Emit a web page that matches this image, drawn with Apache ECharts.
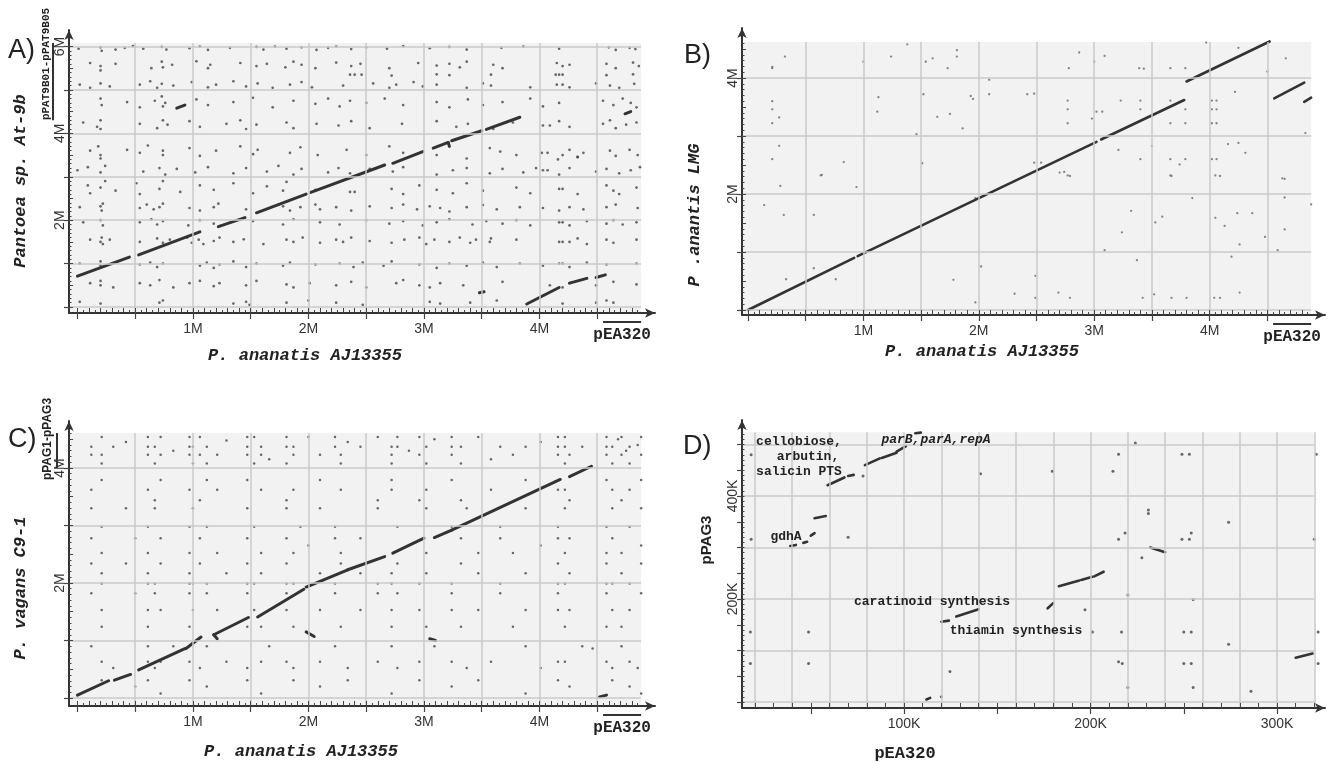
<!DOCTYPE html>
<html>
<head>
<meta charset="utf-8">
<script src="https://cdn.jsdelivr.net/npm/echarts@6/dist/echarts.min.js"></script>
<style>
html, body { margin: 0; padding: 0; background: #fff; }
#main { width: 1333px; height: 762px; }
</style>
</head>
<body>
<div id="main"></div>
<script>
// ---- data (A, B, C in Mb; D in kb). segments are [x1, y1, x2, y2] ----
var aSegments = [
  [0.00, 0.71, 0.45, 1.15], [0.53, 1.20, 1.06, 1.73], [1.22, 1.85, 1.45, 2.06],
  [1.55, 2.17, 1.98, 2.60], [2.02, 2.64, 2.66, 3.27], [2.73, 3.31, 2.99, 3.58],
  [3.08, 3.66, 3.21, 3.79], [3.21, 3.79, 3.22, 3.70], [3.24, 3.83, 3.50, 4.06],
  [3.54, 4.09, 3.83, 4.37], [3.89, 0.07, 4.17, 0.45], [4.26, 0.55, 4.41, 0.66],
  [4.49, 0.68, 4.57, 0.74], [0.86, 4.58, 0.93, 4.65], [3.48, 0.33, 3.52, 0.35],
  [4.74, 4.45, 4.79, 4.50]
];
var aDots = [
  [0.01,5.95],[0.20,5.98],[0.21,5.9],[0.33,5.93],[0.41,5.97],[0.48,6.01],[0.57,5.95],[0.73,5.99],[0.77,5.93],[0.97,5.96],[1.06,6.0],[1.13,5.92],[1.32,5.97],[1.55,5.99],[1.61,5.93],[1.71,6.0],[1.81,5.95],[1.94,5.98],[2.07,5.92],[2.17,5.97],[2.24,6.0],[2.37,5.94],[2.5,5.98],[2.68,5.95],[2.82,6.01],[3.05,5.96],[3.22,5.99],[3.37,5.93],[3.67,5.97],[3.86,6.0],[4.17,5.95],[4.6,5.98],[4.66,5.92],[4.78,5.97],[4.83,5.94],
  [0.11,5.62],[0.2,5.55],[0.2,5.45],[0.33,5.6],[0.64,5.5],[0.73,5.65],[0.74,5.52],[0.82,5.58],[1.03,5.66],[1.13,5.5],[1.15,5.58],[1.41,5.62],[1.55,5.55],[1.64,5.6],[1.8,5.52],[1.87,5.65],[1.94,5.58],[2.06,5.5],[2.24,5.63],[2.37,5.55],[2.45,5.6],[2.7,5.5],[2.95,5.62],[3.11,5.56],[3.22,5.6],[3.31,5.52],[3.37,5.65],[3.6,5.58],[3.68,5.5],[4.15,5.62],[4.2,5.55],[4.26,5.58],[4.58,5.6],[4.66,5.5],[4.81,5.63],[4.86,5.55],
  [2.36,5.35],[2.4,5.35],[2.46,5.35],[2.72,5.33],[3.11,5.36],[3.22,5.34],[3.58,5.35],[4.14,5.35],[4.17,5.35],[4.2,5.35],[4.58,5.34],[4.81,5.36],
  [0.02,5.12],[0.11,5.05],[0.2,5.15],[0.28,5.08],[0.54,5.12],[0.63,5.2],[0.69,5.05],[0.73,5.14],[0.83,5.1],[0.99,5.18],[1.13,5.06],[1.2,5.12],[1.35,5.2],[1.46,5.08],[1.56,5.15],[1.69,5.05],[1.84,5.12],[1.94,5.18],[2.03,5.06],[2.3,5.1],[2.56,5.15],[2.7,5.05],[2.76,5.12],[2.91,5.18],[2.99,5.08],[3.11,5.12],[3.37,5.05],[3.51,5.15],[3.58,5.1],[3.92,5.06],[4.15,5.12],[4.2,5.12],[4.26,5.06],[4.49,5.15],[4.61,5.1],[4.69,5.05],[4.82,5.14],
  [0.2,4.8],[0.21,4.65],[0.43,4.72],[0.54,4.6],[0.67,4.75],[0.73,4.85],[0.74,4.62],[0.76,4.7],[1.03,4.78],[1.13,4.65],[1.35,4.72],[1.52,4.82],[1.69,4.6],[1.87,4.75],[2.06,4.68],[2.17,4.8],[2.27,4.62],[2.36,4.75],[2.5,4.7],[2.66,4.8],[2.82,4.65],[3.11,4.72],[3.22,4.6],[3.38,4.78],[3.51,4.65],[3.68,4.72],[3.92,4.8],[4.03,4.62],[4.17,4.7],[4.55,4.75],[4.64,4.65],[4.72,4.8],[4.79,4.7],[4.84,4.6],
  [0.05,4.25],[0.17,4.15],[0.2,4.3],[0.2,4.1],[0.54,4.22],[0.69,4.12],[0.74,4.3],[0.78,4.2],[0.97,4.28],[1.06,4.15],[1.29,4.22],[1.41,4.3],[1.46,4.1],[1.55,4.2],[1.81,4.25],[1.87,4.12],[2.07,4.22],[2.26,4.18],[2.37,4.28],[2.53,4.12],[2.81,4.22],[3.11,4.28],[3.28,4.15],[3.38,4.22],[3.6,4.1],[3.77,4.25],[4.03,4.18],[4.09,4.18],[4.17,4.28],[4.26,4.15],[4.55,4.22],[4.61,4.3],[4.66,4.12],[4.75,4.2],[4.84,4.25],
  [0.11,3.6],[0.18,3.7],[0.2,3.5],[0.2,3.42],[0.43,3.62],[0.54,3.55],[0.61,3.72],[0.74,3.5],[0.74,3.6],[0.97,3.66],[1.06,3.48],[1.2,3.6],[1.41,3.7],[1.52,3.52],[1.56,3.62],[1.84,3.55],[1.93,3.68],[2.08,3.5],[2.33,3.62],[2.5,3.5],[2.7,3.7],[2.82,3.55],[3.11,3.5],[3.37,3.42],[3.57,3.66],[3.66,3.58],[3.8,3.5],[4.02,3.55],[4.07,3.55],[4.16,3.4],[4.2,3.5],[4.26,3.62],[4.33,3.45],[4.38,3.55],[4.61,3.6],[4.66,3.48],[4.78,3.62],[4.85,3.5],
  [0.0,3.15],[0.09,3.22],[0.2,3.1],[0.24,3.25],[0.57,3.12],[0.71,3.2],[0.76,3.05],[0.86,3.18],[1.02,3.1],[1.13,3.22],[1.35,3.08],[1.46,3.2],[1.64,3.12],[1.74,3.25],[1.87,3.05],[1.94,3.18],[2.17,3.1],[2.26,3.2],[2.36,3.08],[2.53,3.18],[2.73,3.12],[2.82,3.22],[3.11,3.05],[3.25,3.15],[3.37,3.2],[3.57,3.08],[3.68,3.18],[3.86,3.1],[3.97,3.2],[4.03,3.15],[4.07,3.15],[4.17,3.05],[4.26,3.2],[4.49,3.12],[4.58,3.18],[4.69,3.08],[4.79,3.15],[4.87,3.22],
  [0.09,2.8],[0.11,2.62],[0.2,2.75],[0.24,2.9],[0.33,2.68],[0.51,2.85],[0.54,2.6],[0.71,2.72],[0.74,2.9],[0.89,2.65],[1.06,2.8],[1.18,2.7],[1.35,2.85],[1.52,2.62],[1.64,2.78],[1.78,2.68],[1.81,2.88],[2.06,2.7],[2.36,2.65],[2.4,2.65],[2.72,2.72],[2.82,2.6],[2.96,2.8],[3.11,2.7],[3.25,2.62],[3.37,2.85],[3.51,2.68],[3.8,2.75],[3.92,2.62],[4.17,2.72],[4.2,2.72],[4.33,2.6],[4.58,2.8],[4.64,2.68],[4.69,2.6],[4.84,2.75],
  [0.02,2.3],[0.2,2.32],[0.21,2.22],[0.22,2.38],[0.54,2.28],[0.6,2.36],[0.66,2.25],[0.71,2.3],[0.74,2.38],[0.97,2.28],[1.06,2.22],[1.18,2.3],[1.22,2.38],[1.46,2.25],[1.78,2.32],[1.84,2.22],[1.93,2.3],[2.06,2.36],[2.1,2.25],[2.24,2.3],[2.37,2.22],[2.53,2.32],[2.72,2.28],[2.82,2.36],[2.94,2.25],[3.05,2.32],[3.14,2.28],[3.22,2.2],[3.37,2.3],[3.51,2.35],[3.63,2.25],[3.83,2.3],[4.03,2.28],[4.17,2.22],[4.26,2.3],[4.38,2.25],[4.58,2.3],[4.66,2.36],[4.85,2.28],
  [0.05,1.95],[0.2,2.0],[0.22,1.88],[0.54,1.95],[0.64,2.02],[0.69,1.9],[0.74,1.98],[0.96,1.88],[1.06,2.0],[1.18,1.92],[1.52,1.98],[1.78,1.9],[1.87,2.02],[2.1,1.95],[2.27,1.9],[2.5,2.0],[2.7,1.92],[2.82,1.98],[2.99,1.88],[3.11,1.95],[3.22,2.02],[3.42,1.9],[3.54,1.98],[3.68,1.92],[3.8,2.0],[3.92,1.88],[4.17,1.95],[4.2,1.95],[4.26,1.88],[4.41,1.98],[4.58,1.92],[4.64,2.0],[4.72,1.9],[4.84,1.95],
  [0.11,1.55],[0.2,1.5],[0.21,1.6],[0.22,1.45],[0.28,1.55],[0.54,1.5],[0.69,1.58],[0.74,1.48],[0.8,1.55],[0.95,1.6],[0.99,1.48],[1.05,1.55],[1.09,1.45],[1.18,1.52],[1.23,1.6],[1.35,1.5],[1.44,1.56],[1.61,1.45],[1.81,1.55],[1.87,1.5],[1.95,1.6],[2.1,1.48],[2.24,1.55],[2.3,1.5],[2.37,1.6],[2.53,1.52],[2.72,1.48],[2.83,1.55],[2.96,1.6],[3.02,1.45],[3.09,1.55],[3.22,1.5],[3.31,1.6],[3.4,1.48],[3.45,1.55],[3.57,1.5],[3.58,1.58],[3.8,1.55],[4.17,1.5],[4.2,1.5],[4.26,1.5],[4.33,1.58],[4.41,1.45],[4.58,1.55],[4.64,1.48],[4.84,1.55],
  [0.02,1.0],[0.2,0.95],[0.2,1.05],[0.54,0.98],[0.63,1.02],[0.69,0.92],[0.74,1.0],[1.06,0.95],[1.12,1.02],[1.18,0.9],[1.23,0.98],[1.35,1.05],[1.46,0.92],[1.55,1.0],[1.78,0.95],[1.84,1.02],[2.06,0.98],[2.27,1.0],[2.39,0.92],[2.47,1.02],[2.65,0.95],[2.72,1.05],[2.96,0.98],[3.11,0.9],[3.22,1.0],[3.37,0.95],[3.51,1.02],[3.63,0.92],[3.83,1.0],[4.03,0.95],[4.17,1.0],[4.2,1.0],[4.26,0.92],[4.41,1.02],[4.58,0.98],[4.84,1.0],
  [0.11,0.55],[0.2,0.5],[0.2,0.6],[0.31,0.45],[0.54,0.55],[0.63,0.5],[0.71,0.62],[0.83,0.45],[0.97,0.55],[1.06,0.6],[1.18,0.48],[1.23,0.55],[1.46,0.5],[1.55,0.6],[1.81,0.52],[1.87,0.45],[2.01,0.55],[2.24,0.5],[2.37,0.58],[2.5,0.45],[2.76,0.55],[2.82,0.62],[2.96,0.5],[3.05,0.45],[3.14,0.55],[3.34,0.5],[3.68,0.58],[4.09,0.5],[4.2,0.45],[4.26,0.55],[4.49,0.5],[4.64,0.58],[4.84,0.52],
  [0.02,0.12],[0.2,0.08],[0.71,0.1],[0.74,0.15],[1.35,0.08],[1.46,0.12],[1.49,0.05],[1.81,0.1],[2.0,0.15],[2.24,0.1],[2.47,0.05],[3.05,0.12],[3.14,0.08],[3.4,0.1],[3.63,0.15],[4.2,0.08],[4.49,0.1],[4.58,0.15],[4.64,0.1],[4.33,3.46]
];

var bSegments = [
  [0.00, 0.00, 0.92, 0.90], [0.95, 0.93, 3.02, 2.90], [3.06, 2.94, 3.78, 3.62],
  [3.80, 3.94, 4.52, 4.63], [4.56, 3.65, 4.82, 3.92], [4.82, 3.59, 4.88, 3.66]
];
var bDots = [
  [0.32,4.37],[0.21,4.17],[0.21,4.19],[1.0,4.28],[1.24,4.37],[1.38,4.58],[1.54,4.28],[1.6,4.34],[1.81,4.48],[1.81,4.37],[1.73,4.17],[2.09,3.97],[2.09,3.72],
  [0.21,3.6],[0.21,3.46],[0.27,3.32],[0.21,3.22],[1.13,3.67],[1.12,3.42],[1.52,3.72],[1.64,3.33],[1.75,3.38],[1.93,3.69],[1.95,3.64],[1.86,3.13],[1.46,3.03],
  [0.27,2.83],[0.21,2.6],[0.83,2.55],[0.63,2.32],[1.51,2.53],
  [2.87,4.44],[3.0,4.28],[3.09,4.38],[2.78,4.17],[3.39,4.17],[3.43,4.16],[3.66,4.17],[3.79,4.17],[3.97,4.61],[4.25,4.52],[4.66,4.34],[4.5,4.11],
  [2.42,3.72],[2.48,3.73],[2.77,3.61],[2.77,3.46],[2.77,3.22],[3.02,3.42],[3.07,3.42],[2.98,3.3],[3.23,3.61],[3.4,3.61],[3.4,3.46],[3.66,3.61],[3.66,3.22],[3.79,3.46],[3.79,3.22],[4.02,3.61],[4.06,3.61],[4.02,3.46],[4.06,3.46],[4.02,3.22],[4.06,3.22],[4.22,3.76],[4.83,3.05],
  [3.5,2.83],[3.21,2.76],[4.16,2.86],[4.25,2.88],[4.31,2.71],[3.74,2.51],[3.4,2.6],[3.66,2.6],[3.79,2.6],[4.02,2.6],[4.06,2.6],[2.48,2.54],[2.54,2.54],[2.7,2.37],[2.77,2.32],[3.66,2.32],[4.05,2.32],[4.63,2.27],
  [0.14,1.81],[0.31,1.64],[0.28,2.14],[0.64,2.33],[0.94,2.12],[0.57,1.64],[0.57,0.72],[0.33,0.53],[0.76,0.53],[1.78,0.52],[1.97,1.93],[2.02,0.75],[1.97,0.13],[2.31,0.28],[2.49,0.59],[2.49,0.21],[2.69,0.3],[2.74,2.38],[2.79,2.31],[2.79,0.21],[3.09,1.03],[3.24,1.34],[3.32,1.71],[3.37,0.86],[3.42,0.21],[3.52,0.27],[3.53,1.51],[3.59,1.61],[3.67,2.31],[3.67,0.21],[3.8,0.21],[3.85,1.93],[4.05,1.59],[4.04,0.21],[4.09,0.21],[4.09,2.31],[4.13,1.45],[4.19,0.92],[4.24,1.67],[4.37,1.67],[4.26,1.13],[4.26,0.3],[4.48,1.26],[4.59,1.03],[4.65,2.26],[4.65,1.94],[4.65,1.39],[4.88,1.82]
];

var cSegments = [
  [0.00, 0.05, 0.27, 0.30], [0.32, 0.31, 0.46, 0.41], [0.53, 0.49, 0.93, 0.86],
  [0.94, 0.86, 1.07, 1.06], [1.18, 1.10, 1.48, 1.40], [1.18, 1.10, 1.21, 1.03],
  [1.56, 1.41, 1.96, 1.89], [1.98, 1.93, 2.34, 2.23], [2.34, 2.23, 2.66, 2.46],
  [2.73, 2.52, 3.00, 2.78], [3.09, 2.79, 3.24, 2.92], [3.24, 2.92, 4.18, 3.80],
  [4.26, 3.85, 4.45, 4.03], [4.52, 0.02, 4.58, 0.05], [1.98, 1.15, 2.05, 1.07],
  [3.05, 1.03, 3.10, 1.00]
];
var cDots = [
  [0.12,4.37],[0.12,4.23],[0.21,4.54],[0.21,4.23],[0.21,4.08],[0.31,4.37],[0.61,4.54],[0.61,4.37],[0.61,4.23],[0.67,4.37],[0.67,4.08],[0.72,4.54],[0.72,4.23],[0.97,4.54],[0.97,4.37],[0.97,4.23],[1.0,4.37],[1.0,4.08],[1.06,4.54],[1.06,4.23],[1.12,4.37],[1.12,4.08],[1.21,4.23],[1.47,4.54],[1.47,4.37],[1.47,4.23],[1.53,4.54],[1.53,4.08],[1.59,4.37],[1.59,4.23],[1.81,4.54],[1.81,4.37],[1.81,4.08],[1.87,4.23],[1.87,4.37],[2.0,4.54],[2.1,4.23],[2.23,4.54],[2.23,4.37],[2.28,4.23],[2.28,4.08],[2.45,4.37],[2.6,4.54],[2.72,4.37],[2.72,4.23],[2.72,4.08],[2.77,4.54],[2.77,4.37],[2.96,4.54],[2.96,4.23],[3.02,4.37],[3.02,4.08],[3.24,4.54],[3.24,4.37],[3.24,4.23],[3.32,4.37],[3.32,4.08],[3.47,4.54],[3.66,4.37],[3.77,4.23],[3.88,4.37],[4.16,4.54],[4.16,4.37],[4.16,4.23],[4.22,4.54],[4.22,4.37],[4.22,4.08],[4.26,4.23],[4.37,4.37],[4.58,4.54],[4.58,4.37],[4.58,4.23],[4.63,4.37],[4.63,4.08],[4.71,4.54],[4.71,4.23],[4.78,4.37],[4.78,4.08],[4.88,4.54],[4.88,4.23],
  [0.42,4.45],[0.83,4.3],[1.29,4.48],[1.66,4.15],[2.34,4.45],[2.87,4.3],[3.09,4.5],[3.58,4.15],[4.01,4.45],[4.68,4.5],[4.75,4.3],[4.85,4.4],
  [0.12,3.62],[0.21,3.79],[0.61,3.62],[0.67,3.44],[0.72,3.79],[0.97,3.62],[1.06,3.44],[1.12,3.79],[1.21,3.62],[1.47,3.79],[1.59,3.62],[1.81,3.44],[1.87,3.62],[2.1,3.79],[2.28,3.62],[2.6,3.44],[2.72,3.79],[2.72,3.62],[2.96,3.44],[3.02,3.62],[3.24,3.79],[3.32,3.44],[3.58,3.62],[3.88,3.79],[4.16,3.62],[4.22,3.62],[4.26,3.44],[4.58,3.79],[4.63,3.62],[4.71,3.44],[4.78,3.62],[4.88,3.79],
  [0.12,3.3],[0.21,2.98],[0.42,3.3],[0.61,2.98],[0.67,3.3],[0.97,2.98],[1.0,3.3],[1.12,2.98],[1.47,3.3],[1.53,2.98],[1.81,3.3],[1.93,2.98],[2.1,3.3],[2.23,2.98],[2.6,3.3],[2.77,2.98],[3.02,3.3],[3.24,2.98],[3.37,3.3],[3.66,2.98],[3.88,3.3],[4.16,2.98],[4.22,3.3],[4.58,2.98],[4.63,3.3],[4.78,2.98],[4.88,3.3],
  [0.12,2.78],[0.21,2.52],[0.5,2.78],[0.61,2.52],[0.72,2.78],[0.97,2.52],[1.06,2.78],[1.21,2.52],[1.47,2.78],[1.59,2.52],[1.81,2.78],[1.87,2.52],[2.0,2.65],[2.23,2.78],[2.28,2.52],[2.45,2.78],[3.02,2.52],[3.32,2.78],[3.47,2.52],[3.66,2.78],[3.77,2.52],[4.01,2.65],[4.16,2.78],[4.22,2.52],[4.26,2.78],[4.58,2.52],[4.63,2.78],[4.71,2.52],[4.88,2.65],
  [0.12,2.34],[0.21,2.17],[0.21,1.99],[0.42,2.34],[0.61,2.17],[0.61,1.99],[0.67,1.99],[0.72,2.34],[0.97,2.17],[0.97,1.99],[1.0,1.99],[1.06,2.34],[1.12,1.99],[1.29,2.17],[1.47,2.34],[1.47,1.99],[1.53,1.99],[1.59,2.17],[1.81,2.34],[1.81,1.99],[1.87,1.99],[2.1,2.17],[2.23,1.99],[2.28,2.34],[2.45,2.17],[2.6,1.99],[2.72,2.17],[2.72,1.99],[2.77,2.34],[2.96,1.99],[3.02,2.17],[3.24,1.99],[3.32,2.34],[3.47,2.17],[3.66,1.99],[3.88,2.17],[4.16,1.99],[4.16,2.34],[4.22,1.99],[4.26,2.17],[4.58,1.99],[4.58,2.34],[4.63,1.99],[4.71,2.17],[4.78,1.99],[4.88,2.34],
  [0.12,1.82],[0.21,1.53],[0.21,1.24],[0.5,1.82],[0.61,1.53],[0.61,1.24],[0.67,1.82],[0.72,1.53],[0.97,1.82],[0.97,1.24],[1.0,1.53],[1.12,1.82],[1.21,1.53],[1.47,1.82],[1.47,1.24],[1.53,1.53],[1.59,1.24],[1.81,1.82],[1.81,1.53],[1.87,1.24],[2.1,1.53],[2.23,1.82],[2.28,1.24],[2.45,1.53],[2.6,1.82],[2.72,1.53],[2.72,1.24],[2.77,1.82],[2.96,1.53],[3.02,1.24],[3.24,1.82],[3.24,1.53],[3.32,1.24],[3.47,1.53],[3.66,1.82],[3.77,1.24],[3.88,1.53],[4.16,1.82],[4.16,1.53],[4.22,1.24],[4.26,1.53],[4.58,1.82],[4.58,1.24],[4.63,1.53],[4.71,1.24],[4.78,1.53],[4.88,1.82],
  [0.12,0.9],[0.21,0.63],[0.31,0.52],[0.61,0.9],[0.61,0.63],[0.67,0.52],[0.72,0.63],[0.83,0.9],[0.97,0.63],[1.06,0.52],[1.12,0.9],[1.29,0.63],[1.47,0.52],[1.59,0.63],[1.66,0.9],[1.81,0.63],[1.87,0.52],[2.1,0.63],[2.23,0.9],[2.34,0.52],[2.6,0.63],[2.72,0.9],[2.77,0.52],[2.96,0.63],[3.09,0.9],[3.24,0.63],[3.37,0.52],[3.58,0.63],[3.88,0.9],[4.01,0.52],[4.16,0.63],[4.22,0.63],[4.37,0.9],[4.58,0.63],[4.63,0.52],[4.71,0.9],[4.78,0.63],[4.85,0.52],
  [0.21,0.31],[0.5,0.2],[0.61,0.31],[0.72,0.08],[0.97,0.31],[1.12,0.2],[1.47,0.31],[1.59,0.08],[1.87,0.31],[2.1,0.2],[2.34,0.31],[2.72,0.08],[2.96,0.31],[3.24,0.2],[3.47,0.31],[3.88,0.08],[4.16,0.31],[4.26,0.2],[4.63,0.31],[4.78,0.2],[4.88,0.08],[4.46,0.86]
];

var dSegments = [
  [79, 460, 87, 473], [88, 474, 96, 484], [96, 486, 101, 497], [106, 522, 109, 523],
  [59, 421, 68, 436], [70, 439, 73, 441], [52, 357, 58, 361], [39, 303, 42, 305],
  [46, 309, 48, 311], [50, 323, 52, 328], [232, 300, 240, 291], [183, 225, 194, 236],
  [195, 237, 201, 243], [202, 244, 207, 253], [177, 182, 180, 192], [120, 156, 124, 158],
  [128, 166, 140, 180], [310, 86, 319, 94], [112, 5, 114, 8]
];
var dDots = [
  [78,439],[141,443],[18,480],[18,316],[70,320],[224,503],[215,481],[249,481],[253,481],[321,481],
  [179.5,448],[212,448],[231,373],[231,366],[274,349],[218.5,328],[215,316],[249,316],[253,316],[254,328],[320,316],
  [227.5,280],[220,208],[197,179],[255,199],
  [17.6,136],[48.8,136],[201,136],[216.6,136],[250,136],[254,136],[322,136],
  [17.6,75],[48.8,75],[215,78],[217,75],[250,75],[254,75],[322,75],
  [274,112],[124.6,59],[220,28],[255,28],[286,21],[120,10]
];

// tick labels
var mbLabelsX = [1, 2, 3, 4];
var mbLabelsYA = [2, 4, 6];
var mbLabelsYBC = [2, 4];
var kbLabelsX = [100, 200, 300];
var kbLabelsY = [200, 400];
// replicon ranges shown as bars beside the axes
var pEA320Range = [4.55, 4.88];
var pPAT9BRange = [4.3, 6.08];
var pPAGRange = [4.0, 4.61];

function ticks(from, to, step) {
  var out = [];
  for (var v = from; v <= to + 1e-9; v += step) out.push(Math.round(v * 1000) / 1000);
  return out;
}

var mbX = {
  xMajor: ticks(0, 4.5, 0.5), xLong: ticks(0, 4.8, 0.1), xShort: ticks(0, 4.85, 0.05),
  xGrid: ticks(0.5, 4.5, 0.5), xLabels: mbLabelsX
};

var panels = [
  Object.assign({left: 69, top: 30, width: 586, height: 283,
    xMin: -0.073, xMax: 5.0, yMin: -0.138, yMax: 6.38, plotX: 4.88, plotY: 6.08,
    yMajor: ticks(0, 6, 1), yLong: ticks(0, 6, 0.5), yShort: ticks(0, 6, 0.1),
    yGrid: ticks(0, 6, 1), yLabels: mbLabelsYA, unit: 'M',
    segs: aSegments, dots: aDots, dotSize: 2.7, dotColor: '#444', lineWidth: 3}, mbX),
  Object.assign({left: 742, top: 28, width: 583, height: 287,
    xMin: -0.052, xMax: 5.0, yMin: -0.086, yMax: 4.862, plotX: 4.88, plotY: 4.62,
    yMajor: ticks(0, 4, 1), yLong: ticks(0, 4.5, 0.5), yShort: ticks(0, 4.6, 0.1),
    yGrid: ticks(0, 4, 1), yLabels: mbLabelsYBC, unit: 'M',
    segs: bSegments, dots: bDots, dotSize: 2.3, dotColor: '#666', lineWidth: 2.6}, mbX),
  Object.assign({left: 69, top: 421, width: 586, height: 285,
    xMin: -0.073, xMax: 5.0, yMin: -0.139, yMax: 4.817, plotX: 4.88, plotY: 4.61,
    yMajor: ticks(0, 4, 1), yLong: ticks(0, 4.5, 0.5), yShort: ticks(0, 4.6, 0.1),
    yGrid: ticks(0, 4, 1), yLabels: mbLabelsYBC, unit: 'M',
    segs: cSegments, dots: cDots, dotSize: 2.5, dotColor: '#444', lineWidth: 3}, mbX),
  {left: 742, top: 420, width: 583, height: 288,
    xMin: 13.1, xMax: 325.7, yMin: -11.65, yMax: 547.6, plotX: 320, plotY: 524,
    xMajor: ticks(50, 300, 50), xLong: ticks(20, 320, 10), xShort: null,
    xGrid: ticks(20, 320, 20), xLabels: kbLabelsX,
    yMajor: ticks(0, 500, 50), yLong: null, yShort: ticks(0, 520, 10),
    yGrid: ticks(0, 500, 100), yLabels: kbLabelsY, unit: 'K',
    segs: dSegments, dots: dDots, dotSize: 3, dotColor: '#444', lineWidth: 2.6}
];

var axisColor = '#333';
var labelFont = {color: '#333', fontSize: 14, fontFamily: 'Liberation Sans'};

function minorAxis(i, p, dim, vals, len) {
  var ax = {gridIndex: i, type: 'value', min: p[dim + 'Min'], max: p[dim + 'Max'],
    position: dim === 'x' ? 'bottom' : 'left', z: 10,
    axisLine: {show: false, onZero: false},
    axisTick: {show: !!vals, inside: true, length: len, lineStyle: {color: '#444', width: 1}},
    axisLabel: {show: false}, splitLine: {show: false}};
  if (vals) { ax.axisTick.customValues = vals; ax.axisLabel.customValues = vals; }
  return ax;
}

var grids = [], xAxes = [], yAxes = [], series = [];
panels.forEach(function (p, i) {
  grids.push({left: p.left, top: p.top, width: p.width, height: p.height,
    containLabel: false, outerBoundsMode: 'none'});
  var fmt = function (v) { return v + p.unit; };
  xAxes.push({gridIndex: i, type: 'value', min: p.xMin, max: p.xMax, position: 'bottom', z: 10,
    axisLine: {show: true, onZero: false, symbol: ['none', 'arrow'], symbolSize: [7, 10],
      lineStyle: {color: axisColor, width: 2}},
    axisTick: {show: true, inside: false, length: 6, customValues: p.xMajor,
      lineStyle: {color: '#444', width: 1.2}},
    axisLabel: Object.assign({customValues: p.xLabels, formatter: fmt, margin: 9}, labelFont),
    splitLine: {show: false}});
  xAxes.push(minorAxis(i, p, 'x', p.xLong, 5));
  xAxes.push(minorAxis(i, p, 'x', p.xShort, 3));
  yAxes.push({gridIndex: i, type: 'value', min: p.yMin, max: p.yMax, position: 'left', z: 10,
    axisLine: {show: true, onZero: false, symbol: ['none', 'arrow'], symbolSize: [7, 10],
      lineStyle: {color: axisColor, width: 2}},
    axisTick: {show: true, inside: false, length: 5, customValues: p.yMajor,
      lineStyle: {color: '#444', width: 1.2}},
    axisLabel: Object.assign({customValues: p.yLabels, formatter: fmt, rotate: 90, margin: 2}, labelFont),
    splitLine: {show: false}});
  yAxes.push(minorAxis(i, p, 'y', p.yLong, 4));
  yAxes.push(minorAxis(i, p, 'y', p.yShort, 2.5));

  var ax = {xAxisIndex: 3 * i, yAxisIndex: 3 * i};
  series.push(Object.assign({type: 'line', data: [], silent: true, z: 1,
    markArea: {silent: true, itemStyle: {color: '#f2f2f2'},
      data: [[{coord: [p.xMin, p.yMin]}, {coord: [p.plotX, p.plotY]}]]}}, ax));
  var gl = [];
  p.xGrid.forEach(function (v) { gl.push([{coord: [v, p.yMin]}, {coord: [v, p.plotY]}]); });
  p.yGrid.forEach(function (v) { gl.push([{coord: [p.xMin, v]}, {coord: [p.plotX, v]}]); });
  series.push(Object.assign({type: 'line', data: [], silent: true, z: 2,
    markLine: {silent: true, symbol: ['none', 'none'], label: {show: false},
      lineStyle: {color: '#cacaca', width: 1.5, type: 'solid'}, data: gl}}, ax));
  series.push(Object.assign({type: 'scatter', data: p.dots, symbolSize: p.dotSize, silent: true, z: 3,
    itemStyle: {color: p.dotColor}}, ax));
  series.push(Object.assign({type: 'lines', coordinateSystem: 'cartesian2d', silent: true, z: 4,
    data: p.segs.map(function (s) { return {coords: [[s[0], s[1]], [s[2], s[3]]]}; }),
    lineStyle: {color: '#333', width: p.lineWidth, opacity: 1, curveness: 0, cap: 'round'}}, ax));
});

var chart = echarts.init(document.getElementById('main'), null, {renderer: 'canvas'});
chart.setOption({animation: false, backgroundColor: '#fff',
  grid: grids, xAxis: xAxes, yAxis: yAxes, series: series});

// ---- texts and replicon bars ----
function toPx(i, x, y) { return chart.convertToPixel({xAxisIndex: 3 * i, yAxisIndex: 3 * i}, [x, y]); }
var mono = '"Liberation Mono", monospace';
var titleFont = 'italic bold 17px ' + mono;
function txt(x, y, s, font, rot, align) {
  return {type: 'text', x: x, y: y, z: 100, rotation: rot ? Math.PI / 2 : 0, silent: true,
    style: {text: s, font: font, fill: '#222', align: align || 'center', verticalAlign: 'middle'}};
}
function bar(x1, y1, x2, y2) {
  return {type: 'line', z: 100, silent: true, shape: {x1: x1, y1: y1, x2: x2, y2: y2},
    style: {stroke: '#333', lineWidth: 2}};
}
var g = [];
[0, 1, 2].forEach(function (i) {
  var p = panels[i];
  var a = toPx(i, pEA320Range[0], p.yMin), b = toPx(i, pEA320Range[1], p.yMin);
  g.push(bar(a[0], a[1] + 9, b[0], a[1] + 9));
  g.push(txt((a[0] + b[0]) / 2, a[1] + 22, 'pEA320', 'bold 16px ' + mono));
});
var t0 = toPx(0, panels[0].xMin, pPAT9BRange[0]), t1 = toPx(0, panels[0].xMin, pPAT9BRange[1]);
g.push(bar(t0[0] - 16, t0[1], t0[0] - 16, t1[1]));
g.push(txt(t0[0] - 23, 64, 'pPAT9B01-pPAT9B05', 'bold 11px ' + mono, true));
var c0 = toPx(2, panels[2].xMin, pPAGRange[0]), c1 = toPx(2, panels[2].xMin, pPAGRange[1]);
g.push(bar(c0[0] - 12, c0[1], c0[0] - 12, c1[1]));
g.push(txt(c0[0] - 21, 439, 'pPAG1-pPAG3', 'bold 12px "Liberation Sans"', true));

g.push(txt(8, 51, 'A)', '27px "Liberation Sans"', false, 'left'));
g.push(txt(684, 56, 'B)', '27px "Liberation Sans"', false, 'left'));
g.push(txt(8, 440, 'C)', '27px "Liberation Sans"', false, 'left'));
g.push(txt(683, 447, 'D)', '27px "Liberation Sans"', false, 'left'));

g.push(txt(21, 181, 'Pantoea sp. At-9b', titleFont, true));
g.push(txt(695, 215, 'P .anantis LMG', titleFont, true));
g.push(txt(21, 588, 'P. vagans C9-1', titleFont, true));
g.push(txt(707, 540, 'pPAG3', 'bold 15px "Liberation Sans"', true));
g.push(txt(305, 356, 'P. ananatis AJ13355', titleFont));
g.push(txt(982, 352, 'P. ananatis AJ13355', titleFont));
g.push(txt(301, 752, 'P. ananatis AJ13355', titleFont));
g.push(txt(905, 754, 'pEA320', 'bold 17px ' + mono));

var noteFont = 'bold 13px ' + mono;
g.push(txt(799, 442, 'cellobiose,', noteFont));
g.push(txt(808, 457, 'arbutin,', noteFont));
g.push(txt(799, 472, 'salicin PTS', noteFont));
g.push(txt(936, 440, 'parB,parA,repA', 'italic ' + noteFont));
g.push(txt(786, 537, 'gdhA', noteFont));
g.push(txt(932, 602, 'caratinoid synthesis', noteFont));
g.push(txt(1016, 631, 'thiamin synthesis', noteFont));

chart.setOption({graphic: g});
</script>
</body>
</html>
